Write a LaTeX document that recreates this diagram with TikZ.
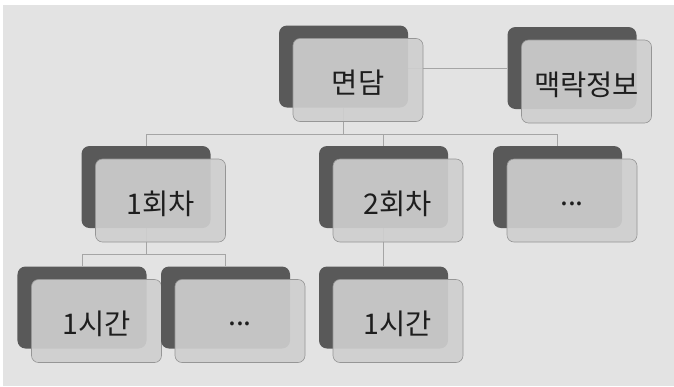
\documentclass[tikz,border=0pt]{standalone}
\usepackage{fontspec}
\newfontfamily\krfont{Noto Sans CJK KR}
\usetikzlibrary{calc}
\pgfdeclarelayer{bg}
\pgfdeclarelayer{conns}
\pgfsetlayers{bg,conns,main}
\definecolor{bgc}{RGB}{227,227,227}
\definecolor{darkc}{RGB}{89,89,89}
\definecolor{lightc}{RGB}{207,207,207}
\definecolor{edgec}{RGB}{150,150,150}
\definecolor{linec}{RGB}{165,165,165}
\definecolor{txtc}{RGB}{30,30,30}
\tikzset{
  darkbox/.style={fill=darkc, draw=none, rounded corners=8bp, minimum width=129bp, minimum height=82bp, inner sep=0pt},
  lightbox/.style={fill=lightc, fill opacity=0.91, draw=edgec, line width=0.6bp, rounded corners=7bp, minimum width=130bp, minimum height=83bp, inner sep=0pt},
  lbl/.style={font=\krfont\fontsize{28.5bp}{32bp}\selectfont, text=txtc, inner sep=0pt},
  conn/.style={draw=linec, line width=0.8bp},
}
\newcommand\mybox[3]{%
  \node[darkbox] (d#1) at (#2) {};
  \node[lightbox] (l#1) at ($(d#1.center)+(14.5,13.5)$) {};
  \node[lbl] (t#1) at ($(l#1.center)+(0,3)$) {#3};
}
\begin{document}
\begin{tikzpicture}[x=1bp,y=-1bp]
\useasboundingbox (0,0) rectangle (674,386);
\begin{pgfonlayer}{bg}
\fill[white] (0,0) rectangle (674,386);
\fill[bgc] (3,5) rectangle (674,386);
\end{pgfonlayer}
\mybox{m}{343.5,66.5}{면담}
\mybox{c}{572,68}{맥락정보}
\mybox{1}{146,187}{1회차}
\mybox{2}{383.5,187}{2회차}
\mybox{3}{557.5,187}{...}
\mybox{4}{82,307.5}{1시간}
\mybox{5}{225.5,307.5}{...}
\mybox{6}{383.5,307.5}{1시간}
\coordinate (busA) at (0,134);
\coordinate (busB) at (0,254);
\begin{pgfonlayer}{conns}
\draw[conn] (dm.east |- 0,68) -- (dc.west |- 0,68);
\draw[conn] (dm.south) -- (dm.south |- busA) -| (d1.north);
\draw[conn] (dm.south |- busA) -| (d2.north);
\draw[conn] (dm.south |- busA) -| (d3.north);
\draw[conn] (d1.south) -- (d1.south |- busB) -| (d4.north);
\draw[conn] (d1.south |- busB) -| (d5.north);
\draw[conn] (d2.south) -- (d6.north);
\end{pgfonlayer}
\end{tikzpicture}
\end{document}
